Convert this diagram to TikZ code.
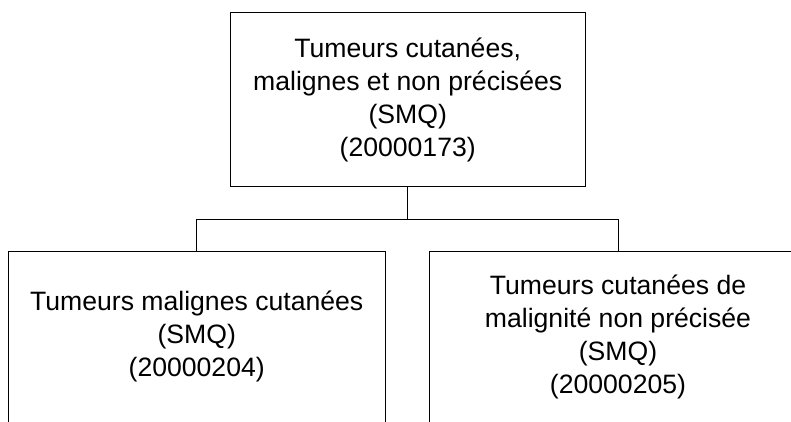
\documentclass[tikz,border=0pt]{standalone}
\usepackage{fontspec}
\setmainfont{Liberation Sans}
\begin{document}
\begin{tikzpicture}[x=1pt,y=-1pt,
  box/.style={draw=black,line width=1pt,inner sep=0pt,fill=none},
  label/.style={align=center,inner sep=0pt,font=\fontsize{26.6}{33}\selectfont,text=black},
  link/.style={draw=black,line width=1pt}]
\useasboundingbox (0,0) rectangle (791,422);
\clip (0,0) rectangle (791,422);
% boxes
\node[box,minimum width=354.7pt,minimum height=174pt] (top) at (407.7,99.3) {};
\node[box,minimum width=376.7pt,minimum height=200pt] (lbox) at (196.7,351.7) {};
\node[box,minimum width=377.4pt,minimum height=200pt] (rbox) at (618,351.7) {};
% texts
\node[label] (ttop) at (407.7,100) {Tumeurs cutanées,\\malignes et non précisées\\(SMQ)\\(20000173)};
\node[label] (tl) at (196.7,336.5) {Tumeurs malignes cutanées\\(SMQ)\\(20000204)};
\node[label] (tr) at (618,337) {Tumeurs cutanées de\\malignité non précisée\\(SMQ)\\(20000205)};
% connectors
\coordinate (fork) at ([yshift=-33pt]top.south);
\draw[link] (top.south) -- (fork) -| (lbox.north);
\draw[link] (fork) -| (rbox.north);
\end{tikzpicture}
\end{document}
